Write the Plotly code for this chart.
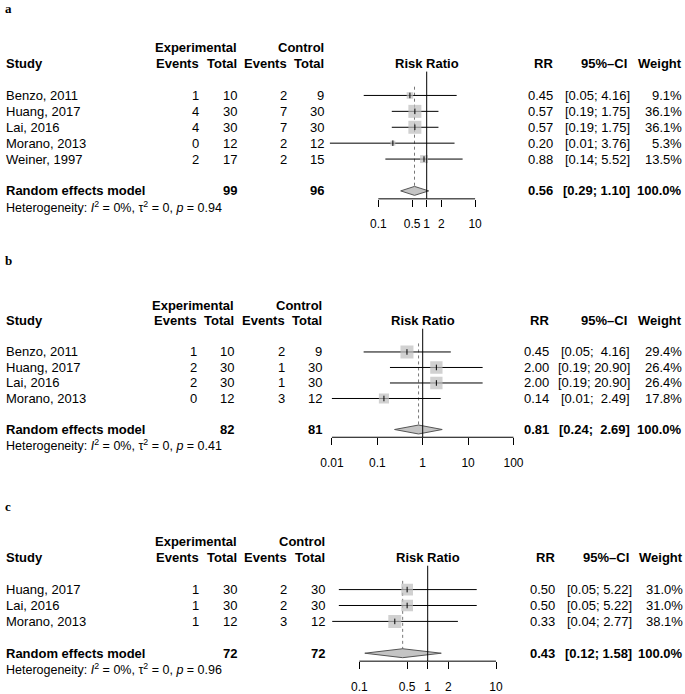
import math
import plotly.graph_objects as go

# ---------------- data ----------------
# Panel a
study_a = ["Benzo, 2011", "Huang, 2017", "Lai, 2016", "Morano, 2013", "Weiner, 1997"]
exp_events_a = [1, 4, 4, 0, 2]
exp_total_a = [10, 30, 30, 12, 17]
ctrl_events_a = [2, 7, 7, 2, 2]
ctrl_total_a = [9, 30, 30, 12, 15]
rr_a = [0.45, 0.57, 0.57, 0.20, 0.88]
lo_a = [0.05, 0.19, 0.19, 0.01, 0.14]
hi_a = [4.16, 1.75, 1.75, 3.76, 5.52]
weight_a = [9.1, 36.1, 36.1, 5.3, 13.5]
pooled_a = [0.56, 0.29, 1.10]
totals_a = [99, 96]
het_p_a = "0.94"
ticks_a = [0.1, 0.5, 1, 2, 10]
ticklabels_a = ["0.1", "0.5", "1", "2", "10"]

# Panel b
study_b = ["Benzo, 2011", "Huang, 2017", "Lai, 2016", "Morano, 2013"]
exp_events_b = [1, 2, 2, 0]
exp_total_b = [10, 30, 30, 12]
ctrl_events_b = [2, 1, 1, 3]
ctrl_total_b = [9, 30, 30, 12]
rr_b = [0.45, 2.00, 2.00, 0.14]
lo_b = [0.05, 0.19, 0.19, 0.01]
hi_b = [4.16, 20.90, 20.90, 2.49]
weight_b = [29.4, 26.4, 26.4, 17.8]
pooled_b = [0.81, 0.24, 2.69]
totals_b = [82, 81]
het_p_b = "0.41"
ticks_b = [0.01, 0.1, 1, 10, 100]
ticklabels_b = ["0.01", "0.1", "1", "10", "100"]

# Panel c
study_c = ["Huang, 2017", "Lai, 2016", "Morano, 2013"]
exp_events_c = [1, 1, 1]
exp_total_c = [30, 30, 12]
ctrl_events_c = [2, 2, 3]
ctrl_total_c = [30, 30, 12]
rr_c = [0.50, 0.50, 0.33]
lo_c = [0.05, 0.05, 0.04]
hi_c = [5.22, 5.22, 2.77]
weight_c = [31.0, 31.0, 38.1]
pooled_c = [0.43, 0.12, 1.58]
totals_c = [72, 72]
het_p_c = "0.96"
ticks_c = [0.1, 0.5, 1, 2, 10]
ticklabels_c = ["0.1", "0.5", "1", "2", "10"]

# ---------------- layout constants ----------------
W, H = 685, 694
FONT = "Liberation Sans, Arial, Helvetica, sans-serif"
SERIF = "Liberation Serif, Times New Roman, serif"
PLOT_L, PLOT_R = 300, 545  # px extent of the forest plot region
BOX_MAX = 13.0
SQ_COLOR = "#BEBEBE"

panels = [
    dict(letter="a", letter_y=9, Y0=96, S=16.0, P1=426.7, D=48.4,
         cols=[6, 199, 237, 287, 324, 553, 630, 682],
         study=study_a, ee=exp_events_a, et=exp_total_a, ce=ctrl_events_a, ct=ctrl_total_a,
         rr=rr_a, lo=lo_a, hi=hi_a, w=weight_a, pooled=pooled_a, totals=totals_a,
         p=het_p_a, ticks=ticks_a, ticklabels=ticklabels_a),
    dict(letter="b", letter_y=262, Y0=354, S=15.6, P1=422.7, D=45.4,
         cols=[6, 197, 234, 285, 322, 549, 630, 682],
         study=study_b, ee=exp_events_b, et=exp_total_b, ce=ctrl_events_b, ct=ctrl_total_b,
         rr=rr_b, lo=lo_b, hi=hi_b, w=weight_b, pooled=pooled_b, totals=totals_b,
         p=het_p_b, ticks=ticks_b, ticklabels=ticklabels_b),
    dict(letter="c", letter_y=509, Y0=593, S=16.0, P1=427.7, D=68.3,
         cols=[6, 199, 237, 287, 325, 555, 632, 683],
         study=study_c, ee=exp_events_c, et=exp_total_c, ce=ctrl_events_c, ct=ctrl_total_c,
         rr=rr_c, lo=lo_c, hi=hi_c, w=weight_c, pooled=pooled_c, totals=totals_c,
         p=het_p_c, ticks=ticks_c, ticklabels=ticklabels_c),
]

fig = go.Figure()
annotations = []
layout_axes = {}


def fmt_ci(lo, hi, lo_w, hi_w):
    ls = f"{lo:.2f}"
    hs = f"{hi:.2f}"
    ls = "\u00a0" * (lo_w - len(ls)) + ls
    hs = "\u00a0" * (hi_w - len(hs)) + hs
    return f"[{ls};\u00a0{hs}]"


for k, pn in enumerate(panels):
    idx = "" if k == 0 else str(k + 1)
    xname, yname = "x" + idx, "y" + idx
    n = len(pn["study"])
    Y0, S = pn["Y0"], pn["S"]
    top_row, bot_row = -3.8, n + 3.2
    px_top, px_bot = Y0 + top_row * S, Y0 + bot_row * S
    axis_row = n + 1.5
    sum_row = n + 1
    het_row = n + 2
    axis_px = Y0 + axis_row * S

    xr = [(PLOT_L - pn["P1"]) / pn["D"], (PLOT_R - pn["P1"]) / pn["D"]]
    layout_axes["xaxis" + idx] = dict(
        type="log", range=xr, domain=[PLOT_L / W, PLOT_R / W],
        anchor="free", position=1 - axis_px / H,
        showgrid=False, zeroline=False, showline=False,
        tickmode="array", tickvals=pn["ticks"], ticktext=pn["ticklabels"],
        ticks="outside", ticklen=7, tickwidth=1, tickcolor="black",
        tickangle=0, ticklabelstandoff=7,
        tickfont=dict(family=FONT, size=12, color="black"),
        fixedrange=True,
    )
    layout_axes["yaxis" + idx] = dict(
        range=[bot_row, top_row], domain=[1 - px_bot / H, 1 - px_top / H],
        visible=False, fixedrange=True, anchor=xname,
    )

    est, plo, phi = pn["pooled"]
    rows = list(range(n))

    # dotted pooled-estimate line
    fig.add_trace(go.Scatter(x=[est, est], y=[-0.55, sum_row], mode="lines",
                             line=dict(color="#777777", width=1, dash="dot"),
                             xaxis=xname, yaxis=yname, hoverinfo="skip"))
    # CI lines
    cx, cy = [], []
    for i in rows:
        cx += [pn["lo"][i], pn["hi"][i], None]
        cy += [i, i, None]
    fig.add_trace(go.Scatter(x=cx, y=cy, mode="lines", line=dict(color="black", width=1),
                             xaxis=xname, yaxis=yname, hoverinfo="skip"))
    # weight squares
    wmax = max(pn["w"])
    sizes = [BOX_MAX * math.sqrt(w / wmax) for w in pn["w"]]
    fig.add_trace(go.Scatter(x=pn["rr"], y=rows, mode="markers",
                             marker=dict(symbol="square", size=sizes, color=SQ_COLOR,
                                         line=dict(width=0)),
                             xaxis=xname, yaxis=yname, hoverinfo="skip"))
    # point estimate marks
    fig.add_trace(go.Scatter(x=pn["rr"], y=rows, mode="markers",
                             marker=dict(symbol="line-ns-open", size=4, color="black",
                                         line=dict(width=1, color="black")),
                             xaxis=xname, yaxis=yname, hoverinfo="skip"))
    # diamond
    h = 4.5 / S
    fig.add_trace(go.Scatter(x=[plo, est, phi, est, plo],
                             y=[sum_row, sum_row - h, sum_row, sum_row + h, sum_row],
                             mode="lines", fill="toself", fillcolor="#C4C4C4",
                             line=dict(color="#555555", width=1),
                             xaxis=xname, yaxis=yname, hoverinfo="skip"))
    # null line at RR = 1
    fig.add_trace(go.Scatter(x=[1, 1], y=[-1.5, axis_row], mode="lines",
                             line=dict(color="black", width=1),
                             xaxis=xname, yaxis=yname, hoverinfo="skip"))
    # axis line between first and last tick
    fig.add_trace(go.Scatter(x=[pn["ticks"][0], pn["ticks"][-1]], y=[axis_row, axis_row],
                             mode="lines", line=dict(color="black", width=1),
                             xaxis=xname, yaxis=yname, hoverinfo="skip"))

    cols = pn["cols"]

    def txt(xpx, row, text, anchor="right", size=13, xref="paper", xval=None):
        annotations.append(dict(
            x=(xpx / W) if xval is None else xval, xref=xref, y=row, yref=yname,
            text=text, showarrow=False, xanchor=anchor, yanchor="middle",
            borderpad=0, borderwidth=0,
            font=dict(family=FONT, size=size, color="black")))

    # headers
    txt(cols[2], -3, "<b>Experimental</b>")
    txt(cols[4], -3, "<b>Control</b>")
    txt(cols[0], -2, "<b>Study</b>", anchor="left")
    txt(cols[1], -2, "<b>Events</b>")
    txt(cols[2], -2, "<b>Total</b>")
    txt(cols[3], -2, "<b>Events</b>")
    txt(cols[4], -2, "<b>Total</b>")
    txt(0, -2, "<b>Risk Ratio</b>", anchor="center", xref=xname, xval=0)
    txt(cols[5], -2, "<b>RR</b>")
    txt(cols[6] - 3, -2, "<b>95%\u2013CI</b>")
    txt(cols[7], -2, "<b>Weight</b>")

    lo_w = max(len(f"{v:.2f}") for v in pn["lo"] + [plo])
    hi_w = max(len(f"{v:.2f}") for v in pn["hi"] + [phi])
    for i in rows:
        txt(cols[0], i, pn["study"][i], anchor="left")
        txt(cols[1], i, str(pn["ee"][i]))
        txt(cols[2], i, str(pn["et"][i]))
        txt(cols[3], i, str(pn["ce"][i]))
        txt(cols[4], i, str(pn["ct"][i]))
        txt(cols[5], i, f"{pn['rr'][i]:.2f}")
        txt(cols[6], i, fmt_ci(pn["lo"][i], pn["hi"][i], lo_w, hi_w))
        txt(cols[7], i, f"{pn['w'][i]:.1f}%")

    txt(cols[0], sum_row, "<b>Random effects model</b>", anchor="left")
    txt(cols[2], sum_row, f"<b>{pn['totals'][0]}</b>")
    txt(cols[4], sum_row, f"<b>{pn['totals'][1]}</b>")
    txt(cols[5], sum_row, f"<b>{est:.2f}</b>")
    txt(cols[6], sum_row, "<b>" + fmt_ci(plo, phi, lo_w, hi_w) + "</b>")
    txt(cols[7], sum_row, "<b>100.0%</b>")
    txt(cols[0], het_row,
        "Heterogeneity: <i>I</i><sup>2</sup> = 0%, \u03c4<sup>2</sup> = 0, <i>p</i> = " + pn["p"],
        anchor="left", size=12.5)

    # panel letter
    annotations.append(dict(x=4 / W, xref="paper", y=1 - pn["letter_y"] / H, yref="paper",
                            text="<b>" + pn["letter"] + "</b>", showarrow=False,
                            xanchor="left", yanchor="middle", borderpad=0,
                            font=dict(family=SERIF, size=13, color="black")))

fig.update_layout(
    width=W, height=H,
    margin=dict(l=0, r=0, t=0, b=0),
    paper_bgcolor="white", plot_bgcolor="rgba(0,0,0,0)",
    showlegend=False,
    annotations=annotations,
    font=dict(family=FONT, size=13, color="black"),
    **layout_axes,
)

fig.write_html(
    "out.html",
    config={"displayModeBar": False},
    post_script="document.body.style.margin='0';document.body.style.padding='0';"
                "document.body.style.overflow='hidden';",
)
